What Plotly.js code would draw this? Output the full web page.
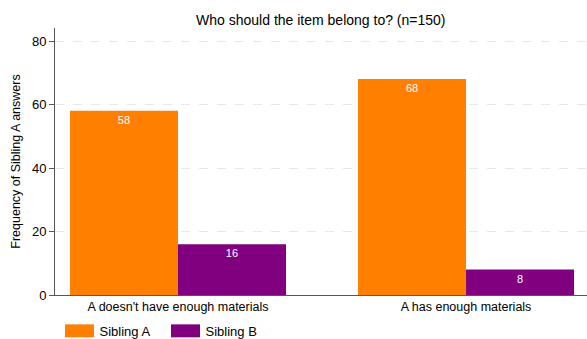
<!DOCTYPE html>
<html>
<head>
<meta charset="utf-8">
<script src="https://cdn.plot.ly/plotly-3.0.1.min.js"></script>
<style>html,body{margin:0;padding:0;background:#fff;}#chart{width:587px;height:339px;}</style>
</head>
<body>
<div id="chart"></div>
<script>
const categories = ["A doesn't have enough materials", "A has enough materials"];
const seriesNames = ["Sibling A", "Sibling B"];
const siblingA = [58, 68];
const siblingB = [16, 8];
const colors = ["#FF8000", "#800080"];
const yTicks = [0, 20, 40, 60, 80];

const font = "Liberation Sans, Arial, Helvetica, sans-serif";
const traces = [siblingA, siblingB].map((vals, i) => ({
  type: 'bar',
  name: seriesNames[i],
  x: categories,
  y: vals,
  text: vals.map(String),
  textposition: 'inside',
  insidetextanchor: 'end',
  textangle: 0,
  constraintext: 'none',
  textfont: {color: '#ffffff', size: 11, family: font},
  marker: {color: colors[i], line: {width: 0}},
  hoverinfo: 'none'
}));

const layout = {
  width: 587, height: 339,
  margin: {l: 55, r: 0, t: 28, b: 44, autoexpand: false},
  paper_bgcolor: '#ffffff', plot_bgcolor: '#ffffff',
  font: {family: font, size: 12, color: '#000000'},
  title: {text: 'Who should the item belong to? (n=150)', font: {size: 14, family: font, color: '#000'}, x: 0.5465, xanchor: 'center', y: 0.94, yanchor: 'middle'},
  barmode: 'group', bargap: 0.25, bargroupgap: 0,
  xaxis: {
    type: 'category', range: [-0.427, 1.42],
    showgrid: false, zeroline: false,
    showline: true, linecolor: '#555555', linewidth: 1,
    ticks: '', tickfont: {size: 12.5, family: font}, automargin: false
  },
  yaxis: {
    range: [0, 84.1], tickvals: yTicks, ticktext: yTicks.map(String),
    showgrid: true, gridcolor: '#e8e8e8', griddash: 'dash', gridwidth: 1,
    zeroline: false, showline: true, linecolor: '#555555', linewidth: 1,
    ticks: 'outside', ticklen: 5, tickcolor: '#555555', tickfont: {size: 13, family: font},
    title: {text: 'Frequency of Sibling A answers', font: {size: 12.5, family: font}, standoff: 8},
    automargin: false
  },
  legend: {orientation: 'h', x: 0.0085, xanchor: 'left', y: -0.1345, yanchor: 'middle', font: {size: 13, family: font}, traceorder: 'normal', entrywidth: 61, entrywidthmode: 'pixels', itemwidth: 30},
  showlegend: true
};

Plotly.newPlot('chart', traces, layout, {displayModeBar: false, staticPlot: true}).then(gd => {
  // widen the legend swatches to the reference's wide rectangles
  gd.querySelectorAll('.legend .legendpoints path').forEach(p => {
    p.setAttribute('d', 'M14.5,6.5H-14.5V-6.5H14.5Z');
  });
  gd.querySelectorAll('.legend, .legend .scrollbox').forEach(el => el.removeAttribute('clip-path'));
});
</script>
</body>
</html>
